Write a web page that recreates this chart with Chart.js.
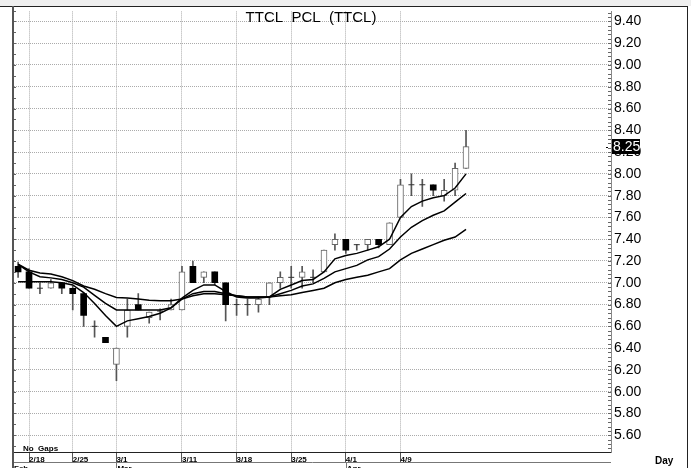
<!DOCTYPE html>
<html>
<head>
<meta charset="utf-8">
<script src="https://cdn.jsdelivr.net/npm/chart.js@4.4.0/dist/chart.umd.min.js"></script>
<style>
  body { margin: 0; background: #fff; }
  canvas { display: block; }
</style>
</head>
<body>
<canvas id="chart" width="691" height="468"></canvas>
<script>
// daily candles, TTCL
const dates = ['2/15','2/18','2/20','2/21','2/22','2/25','2/26','2/27','2/28','3/1',
  '3/4','3/5','3/6','3/7','3/8','3/11','3/12','3/13','3/14','3/15',
  '3/18','3/19','3/20','3/21','3/22','3/25','3/26','3/27','3/28','3/29',
  '4/1','4/2','4/3','4/4','4/5','4/9','4/10','4/11','4/12','4/17','4/18','4/19'];
const openP  = [7.15,7.10,6.95,6.95,7.00,6.95,6.90,6.60,6.50,6.25,
  6.60,6.80,6.68,6.74,6.75,6.75,7.15,7.05,7.10,7.00,
  6.80,6.80,6.80,6.87,7.00,7.05,7.05,7.05,7.10,7.35,
  7.40,7.35,7.35,7.40,7.35,7.60,7.90,7.90,7.90,7.80,7.85,8.05];
const highP  = [7.19,7.13,7.00,7.03,7.00,6.97,6.91,6.65,6.50,6.40,
  6.85,6.90,6.73,6.76,6.85,7.15,7.20,7.10,7.10,7.00,
  6.85,6.85,6.87,7.00,7.10,7.15,7.15,7.12,7.30,7.45,
  7.40,7.35,7.40,7.40,7.55,7.95,8.00,7.95,7.90,7.95,8.10,8.40];
const lowP   = [7.05,6.95,6.90,6.95,6.90,6.75,6.60,6.50,6.45,6.10,
  6.50,6.75,6.63,6.66,6.75,6.75,7.00,7.00,6.98,6.65,
  6.70,6.70,6.73,6.80,6.95,6.95,6.95,7.00,7.10,7.30,
  7.27,7.30,7.30,7.32,7.35,7.60,7.80,7.70,7.80,7.75,7.80,8.05];
const closeP = [7.10,6.95,6.95,7.00,6.95,6.90,6.70,6.60,6.45,6.40,
  6.75,6.75,6.73,6.74,6.80,7.10,7.00,7.10,7.00,6.80,
  6.80,6.80,6.85,7.00,7.05,7.05,7.10,7.05,7.30,7.40,
  7.30,7.35,7.40,7.35,7.55,7.90,7.90,7.90,7.85,7.85,8.05,8.25];

// moving averages as drawn
const maFast = [7.01,7.01,7.01,7.01,7.00,6.98,6.91,6.81,6.70,6.60,
  6.65,6.67,6.69,6.72,6.77,6.86,6.93,6.98,6.98,6.92,
  6.87,6.86,6.86,6.87,6.94,6.98,7.02,7.03,7.10,7.22,
  7.25,7.27,7.30,7.33,7.40,7.60,7.70,7.75,7.78,7.80,7.87,8.00];
const maMid = [7.17,7.10,7.055,7.045,7.03,7.00,6.96,6.885,6.81,6.75,
  6.75,6.75,6.75,6.75,6.77,6.85,6.90,6.92,6.92,6.90,
  6.88,6.87,6.87,6.87,6.90,6.93,6.97,6.99,7.04,7.10,
  7.13,7.16,7.21,7.24,7.31,7.42,7.51,7.57,7.62,7.66,7.74,7.82];
const maSlow = [7.17,7.115,7.09,7.08,7.055,7.02,6.97,6.94,6.90,6.865,
  6.86,6.85,6.84,6.835,6.835,6.85,6.88,6.90,6.90,6.89,
  6.88,6.87,6.87,6.87,6.88,6.89,6.91,6.93,6.95,7.00,
  7.03,7.05,7.07,7.10,7.13,7.21,7.27,7.31,7.35,7.39,7.42,7.49];

const dateTicks = ['2/18','2/25','3/1','3/11','3/18','3/25','4/1','4/9'];
const monthLabels = ['Feb','Mar','Apr'];
const monthStarts = ['2/15','3/1','4/1'];
const priceTicks = [5.6,5.8,6.0,6.2,6.4,6.6,6.8,7.0,7.2,7.4,7.6,7.8,8.0,8.2,8.4,8.6,8.8,9.0,9.2,9.4];
const titleText = 'TTCL  PCL  (TTCL)';

const font = 'Liberation Sans, Arial, sans-serif';
const idx = dates.map((d, i) => i);
const upIdx = idx.filter(i => closeP[i] > openP[i]);
const downIdx = idx.filter(i => closeP[i] < openP[i]);
const dojiIdx = idx.filter(i => closeP[i] === openP[i]);

const decor = {
  id: 'decor',
  beforeDraw(chart) {
    const c = chart.ctx;
    c.save();
    c.fillStyle = '#fff';
    c.fillRect(0, 0, 691, 468);
    c.fillStyle = '#efefef';
    c.fillRect(0, 0, 691, 6);
    c.restore();
  },
  afterDraw(chart) {
    const c = chart.ctx, a = chart.chartArea;
    const xs = chart.scales.x, ys = chart.scales.y;
    c.save();
    // frame
    c.strokeStyle = '#222';
    c.lineWidth = 1;
    c.beginPath();
    c.moveTo(0, 6.5); c.lineTo(688, 6.5);
    c.moveTo(687.5, 6.5); c.lineTo(687.5, 468);
    c.stroke();
    c.fillStyle = '#555';
    c.fillRect(a.left - 2, 6, 2, 462);
    // left minor ticks
    c.strokeStyle = '#666';
    c.beginPath();
    for (let v = 5.5; v < 9.5; v += 0.1) {
      const y = Math.round(ys.getPixelForValue(v)) + 0.5;
      c.moveTo(a.left, y); c.lineTo(a.left + 2, y);
    }
    // right axis minor ticks
    for (let v = 5.48; v < 9.5; v += 0.04) {
      const y = Math.round(ys.getPixelForValue(v)) + 0.5;
      c.moveTo(a.right - 3, y); c.lineTo(a.right, y);
    }
    c.stroke();
    // date / month rows
    c.strokeStyle = '#777';
    c.beginPath();
    c.moveTo(a.left, a.bottom + 10.5); c.lineTo(a.right, a.bottom + 10.5);
    monthStarts.forEach((d, i) => {
      if (i === 0) return;
      const x = Math.round(xs.getPixelForValue(dates.indexOf(d))) + 0.5;
      c.moveTo(x, a.bottom + 10); c.lineTo(x, 468);
    });
    c.stroke();
    c.fillStyle = '#000';
    c.font = 'bold 8px ' + font;
    c.textBaseline = 'alphabetic';
    monthStarts.forEach((d, i) => {
      const x = i === 0 ? a.left : xs.getPixelForValue(dates.indexOf(d)) + 1;
      c.fillText(monthLabels[i], x, 471);
    });
    c.fillText('No  Gaps', a.left + 9, a.bottom - 1);
    c.font = 'bold 10px ' + font;
    c.fillText('Day', 655, 464);
    // title
    c.font = '15px ' + font;
    c.textAlign = 'center';
    c.fillText(titleText, 311, 22);
    // last price box
    const last = closeP[closeP.length - 1];
    const py = ys.getPixelForValue(last);
    c.fillStyle = '#000';
    c.fillRect(a.right + 1, Math.round(py) - 8, 28, 15);
    c.fillRect(a.right - 5, Math.round(py), 2, 1);
    c.fillStyle = '#fff';
    c.textAlign = 'left';
    c.textBaseline = 'middle';
    c.font = '14px ' + font;
    c.fillText(last.toFixed(2), a.right + 2, py);
    c.restore();
  }
};

new Chart(document.getElementById('chart'), {
  type: 'bar',
  data: {
    datasets: [
      {
        type: 'line', data: idx.map(i => ({x: i, y: maFast[i]})),
        borderColor: '#000', borderWidth: 1.5, pointRadius: 0, order: 0
      },
      {
        type: 'line', data: idx.map(i => ({x: i, y: maMid[i]})),
        borderColor: '#000', borderWidth: 1.5, pointRadius: 0, order: 0
      },
      {
        type: 'line', data: idx.map(i => ({x: i, y: maSlow[i]})),
        borderColor: '#000', borderWidth: 1.5, pointRadius: 0, order: 0
      },
      {
        type: 'line', showLine: false, data: dojiIdx.map(i => ({x: i, y: openP[i]})),
        pointStyle: 'line', pointRadius: 3, pointBorderColor: '#333', pointBorderWidth: 1, order: 1
      },
      {
        data: upIdx.map(i => ({x: i, y: [openP[i], closeP[i]]})),
        backgroundColor: '#fff', borderColor: '#666', borderWidth: 1, borderSkipped: false,
        barThickness: 6, grouped: false, order: 2
      },
      {
        data: downIdx.map(i => ({x: i, y: [openP[i], closeP[i]]})),
        backgroundColor: '#000', borderColor: '#000', borderWidth: 0, borderSkipped: false,
        barThickness: 6, grouped: false, order: 2
      },
      {
        data: idx.map(i => ({x: i, y: [lowP[i], highP[i]]})),
        backgroundColor: '#555', borderWidth: 0, barThickness: 1, grouped: false, order: 3
      }
    ]
  },
  options: {
    responsive: false,
    animation: false,
    devicePixelRatio: 1,
    layout: { padding: { left: 14, top: 8, right: 0, bottom: 0 } },
    plugins: { legend: { display: false }, tooltip: { enabled: false } },
    scales: {
      x: {
        type: 'linear', min: -0.375, max: 54.27, offset: false,
        afterBuildTicks: s => { s.ticks = dateTicks.map(d => ({value: dates.indexOf(d)})); },
        afterFit: s => { s.height = 16; },
        ticks: {
          align: 'start', padding: -7, color: '#000', maxRotation: 0, autoSkip: false,
          font: { family: font, size: 8, weight: 'bold' },
          callback: v => dates[v]
        },
        grid: { offset: false, color: '#ababab', tickLength: 10, tickColor: '#555', tickBorderDash: [1, 0] },
        border: { color: '#222', dash: [1, 1] }
      },
      y: {
        position: 'right', min: 5.446, max: 9.492,
        afterBuildTicks: s => { s.ticks = priceTicks.map(v => ({value: v})); },
        afterFit: s => { s.width = 80; },
        ticks: {
          padding: 3, color: '#000',
          font: { family: font, size: 14 },
          callback: v => v.toFixed(2)
        },
        grid: { color: '#ababab', drawTicks: false },
        border: { color: '#888', dash: [1, 1] }
      }
    }
  },
  plugins: [decor]
});
</script>
</body>
</html>
